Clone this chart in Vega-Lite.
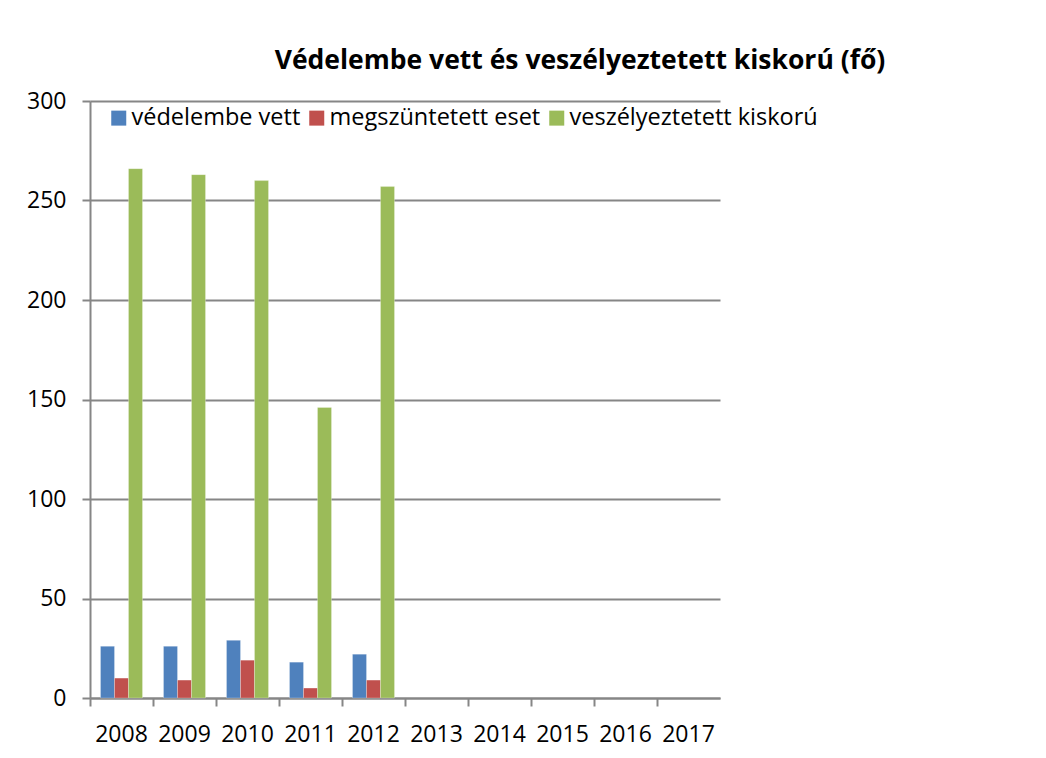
{
  "$schema": "https://vega.github.io/schema/vega-lite/v6.json",
  "autosize": "none",
  "width": 630,
  "height": 597,
  "padding": {"left": 90, "top": 101, "right": 326, "bottom": 60},
  "background": "white",
  "title": {
    "text": "Védelembe vett és veszélyeztetett kiskorú (fő)",
    "font": "Open Sans",
    "fontSize": 26.5,
    "fontWeight": "bold",
    "color": "black",
    "anchor": "middle",
    "dx": 175,
    "offset": 16
  },
  "data": {
    "values": [
      {"year": "2008", "series": "védelembe vett", "value": 26},
      {"year": "2008", "series": "megszüntetett eset", "value": 10},
      {"year": "2008", "series": "veszélyeztetett kiskorú", "value": 266},
      {"year": "2009", "series": "védelembe vett", "value": 26},
      {"year": "2009", "series": "megszüntetett eset", "value": 9},
      {"year": "2009", "series": "veszélyeztetett kiskorú", "value": 263},
      {"year": "2010", "series": "védelembe vett", "value": 29},
      {"year": "2010", "series": "megszüntetett eset", "value": 19},
      {"year": "2010", "series": "veszélyeztetett kiskorú", "value": 260},
      {"year": "2011", "series": "védelembe vett", "value": 18},
      {"year": "2011", "series": "megszüntetett eset", "value": 5},
      {"year": "2011", "series": "veszélyeztetett kiskorú", "value": 146},
      {"year": "2012", "series": "védelembe vett", "value": 22},
      {"year": "2012", "series": "megszüntetett eset", "value": 9},
      {"year": "2012", "series": "veszélyeztetett kiskorú", "value": 257}
    ]
  },
  "mark": {"type": "bar", "stroke": "white", "strokeOpacity": 0.5, "strokeWidth": 0.5},
  "encoding": {
    "x": {
      "field": "year",
      "type": "nominal",
      "scale": {
        "domain": ["2008", "2009", "2010", "2011", "2012", "2013", "2014", "2015", "2016", "2017"],
        "paddingInner": 0,
        "paddingOuter": 0
      },
      "axis": {
        "title": null,
        "labelAngle": 0,
        "labelFont": "Open Sans",
        "labelFontSize": 23,
        "labelColor": "black",
        "labelPadding": 17,
        "bandPosition": 0,
        "tickSize": 8,
        "tickColor": "#868686",
        "tickWidth": 2,
        "domainColor": "#868686",
        "domainWidth": 2,
        "grid": false
      }
    },
    "xOffset": {
      "field": "series",
      "type": "nominal",
      "scale": {
        "domain": ["védelembe vett", "megszüntetett eset", "veszélyeztetett kiskorú"],
        "paddingInner": 0,
        "paddingOuter": 0.75
      }
    },
    "y": {
      "field": "value",
      "type": "quantitative",
      "scale": {"domain": [0, 300], "nice": false},
      "axis": {
        "title": null,
        "values": [0, 50, 100, 150, 200, 250, 300],
        "labelFont": "Open Sans",
        "labelFontSize": 23,
        "labelColor": "black",
        "labelPadding": 16,
        "tickSize": 8,
        "tickColor": "#868686",
        "tickWidth": 2,
        "domainColor": "#868686",
        "domainWidth": 2,
        "grid": true,
        "gridColor": "#868686",
        "gridWidth": 2
      }
    },
    "color": {
      "field": "series",
      "type": "nominal",
      "scale": {
        "domain": ["védelembe vett", "megszüntetett eset", "veszélyeztetett kiskorú"],
        "range": ["#4F81BD", "#C0504D", "#9BBB59"]
      },
      "legend": {
        "title": null,
        "orient": "none",
        "direction": "horizontal",
        "padding": 0,
        "legendX": 17,
        "legendY": 5,
        "symbolType": "square",
        "symbolSize": 225,
        "symbolStrokeWidth": 0,
        "labelFont": "Open Sans",
        "labelFontSize": 23.5,
        "labelColor": "black",
        "labelOffset": 1,
        "columnPadding": 4,
        "labelLimit": 400
      }
    }
  },
  "config": {"view": {"stroke": null}}
}
